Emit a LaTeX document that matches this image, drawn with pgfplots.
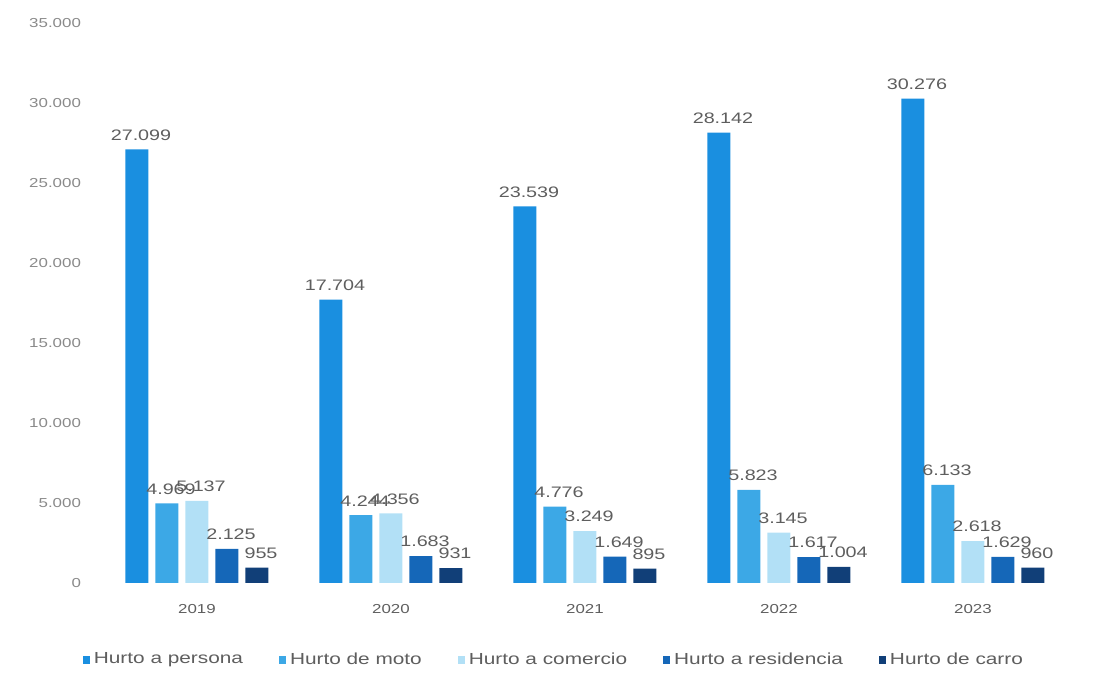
\documentclass[border=0pt]{standalone}
\usepackage{fontspec}
\setmainfont{Liberation Sans}[FakeStretch=1.3]
\usepackage{pgfplots}
\pgfplotsset{compat=1.18}
\definecolor{cPer}{HTML}{1A8FE0}
\definecolor{cMot}{HTML}{3CA8E6}
\definecolor{cCom}{HTML}{B2E0F6}
\definecolor{cRes}{HTML}{1567B8}
\definecolor{cCar}{HTML}{113F78}
\definecolor{txt}{HTML}{5E5E5E}
\definecolor{tick}{HTML}{8A8A8A}
\begin{document}
\begin{tikzpicture}
\path[use as bounding box] (-50pt,-53pt) rectangle (496.5pt,291.5pt);
\begin{axis}[
  scale only axis,
  width=485pt, height=280pt,
  xmin=-0.5, xmax=4.5,
  ymin=0, ymax=35000,
  ybar=3.5pt, bar width=11.5pt,
  axis line style={draw=none},
  major tick style={draw=none},
  xtick=data,
  xticklabels={2019,2020,2021,2022,2023},
  ytick={0,5000,10000,15000,20000,25000,30000,35000},
  scaled y ticks=false,
  /pgf/number format/.cd, 1000 sep={.}, assume math mode=true, /pgfplots/.cd,
  tick label style={font=\fontsize{6.5}{8}\selectfont, text=tick},
  xticklabel style={yshift=-3pt, text=txt},
  yticklabel style={xshift=-6pt},
  nodes near coords,
  every node near coord/.append style={font=\fontsize{7.6}{9}\selectfont, text=txt, /pgf/number format/1000 sep={.}, /pgf/number format/assume math mode=true, yshift=1pt, xshift=2pt},
  legend columns=5,
  legend style={draw=none, at={(0.469,-0.1375)}, anchor=center, font=\fontsize{8}{9}\selectfont, text=txt,
     /tikz/every even column/.append style={column sep=16pt}},
  legend image code/.code={\fill[#1] (0pt,-2pt) rectangle (3.5pt,2pt);},
]
\addplot[fill=cPer, draw=none] coordinates {(0,27099) (1,17704) (2,23539) (3,28142) (4,30276)};
\addplot[fill=cMot, draw=none] coordinates {(0,4969) (1,4244) (2,4776) (3,5823) (4,6133)};
\addplot[fill=cCom, draw=none] coordinates {(0,5137) (1,4356) (2,3249) (3,3145) (4,2618)};
\addplot[fill=cRes, draw=none] coordinates {(0,2125) (1,1683) (2,1649) (3,1617) (4,1629)};
\addplot[fill=cCar, draw=none] coordinates {(0,955) (1,931) (2,895) (3,1004) (4,960)};
\legend{Hurto a persona, Hurto de moto, Hurto a comercio, Hurto a residencia, Hurto de carro}
\end{axis}
\end{tikzpicture}
\end{document}
